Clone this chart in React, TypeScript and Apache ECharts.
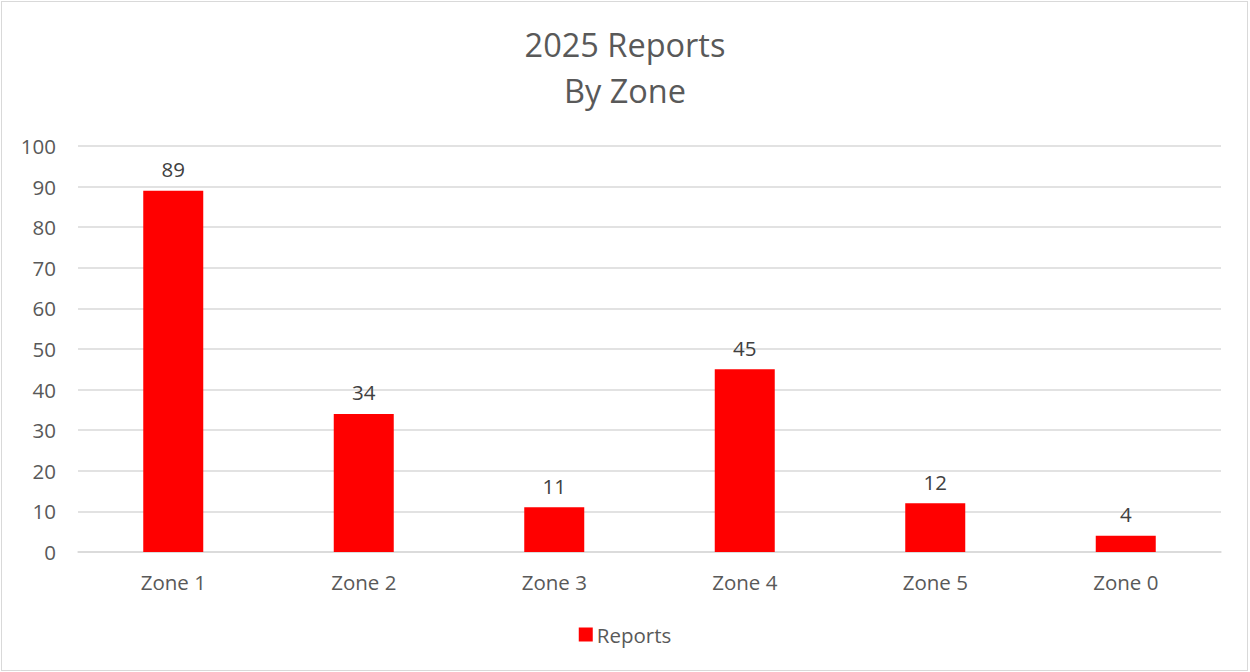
import React, { useEffect, useRef } from "react";
import * as echarts from "echarts";

const categories = ["Zone 1", "Zone 2", "Zone 3", "Zone 4", "Zone 5", "Zone 0"];
const reports = [89, 34, 11, 45, 12, 4];
const seriesName = "Reports";
const titleLines = ["2025 Reports", "By Zone"];

const FONT = "'Open Sans', 'Liberation Sans', sans-serif";

export default function App() {
  const ref = useRef<HTMLDivElement>(null);
  useEffect(() => {
    const chart = echarts.init(ref.current!, null, { renderer: "svg" });
    chart.setOption({
      animation: false,
      textStyle: { fontFamily: FONT },
      title: {
        text: titleLines.join("\n"),
        left: "center",
        top: 16,
        textStyle: {
          fontFamily: FONT,
          fontSize: 32.5,
          fontWeight: "normal",
          color: "#595959",
          lineHeight: 46,
        },
      },
      legend: {
        bottom: 22,
        left: "center",
        itemWidth: 14,
        itemHeight: 14,
        itemGap: 10,
        icon: "rect",
        textStyle: { fontFamily: FONT, fontSize: 20.5, color: "#595959", padding: [0, 0, 0, -1] },
        data: [seriesName],
      },
      grid: { left: 78, right: 29, top: 146, bottom: 120, containLabel: false },
      xAxis: {
        type: "category",
        data: categories,
        axisLine: { lineStyle: { color: "#d9d9d9", width: 1.5 } },
        axisTick: { show: false },
        axisLabel: { fontFamily: FONT, fontSize: 20.5, color: "#595959", margin: 19 },
      },
      yAxis: {
        type: "value",
        min: 0,
        max: 100,
        interval: 10,
        axisLine: { show: false },
        axisTick: { show: false },
        splitLine: { lineStyle: { color: "#d9d9d9", width: 1.5 } },
        axisLabel: { fontFamily: FONT, fontSize: 20.5, color: "#595959", margin: 22 },
      },
      series: [
        {
          name: seriesName,
          type: "bar",
          data: reports,
          barWidth: 60,
          itemStyle: { color: "#ff0000" },
          label: {
            show: true,
            position: "top",
            distance: 11,
            fontFamily: FONT,
            fontSize: 20.5,
            color: "#404040",
          },
        },
      ],
    });
    return () => chart.dispose();
  }, []);
  return (
    <div
      style={{
        position: "fixed",
        left: 0,
        top: 0,
        width: 1250,
        height: 672,
        background: "#fff",
      }}
    >
      <div ref={ref} style={{ position: "absolute", left: 0, top: 0, width: 1250, height: 672 }} />
      <div
        style={{
          position: "absolute",
          left: 1,
          top: 1,
          width: 1247,
          height: 670,
          border: "1.5px solid #d9d9d9",
          boxSizing: "border-box",
          pointerEvents: "none",
        }}
      />
    </div>
  );
}
